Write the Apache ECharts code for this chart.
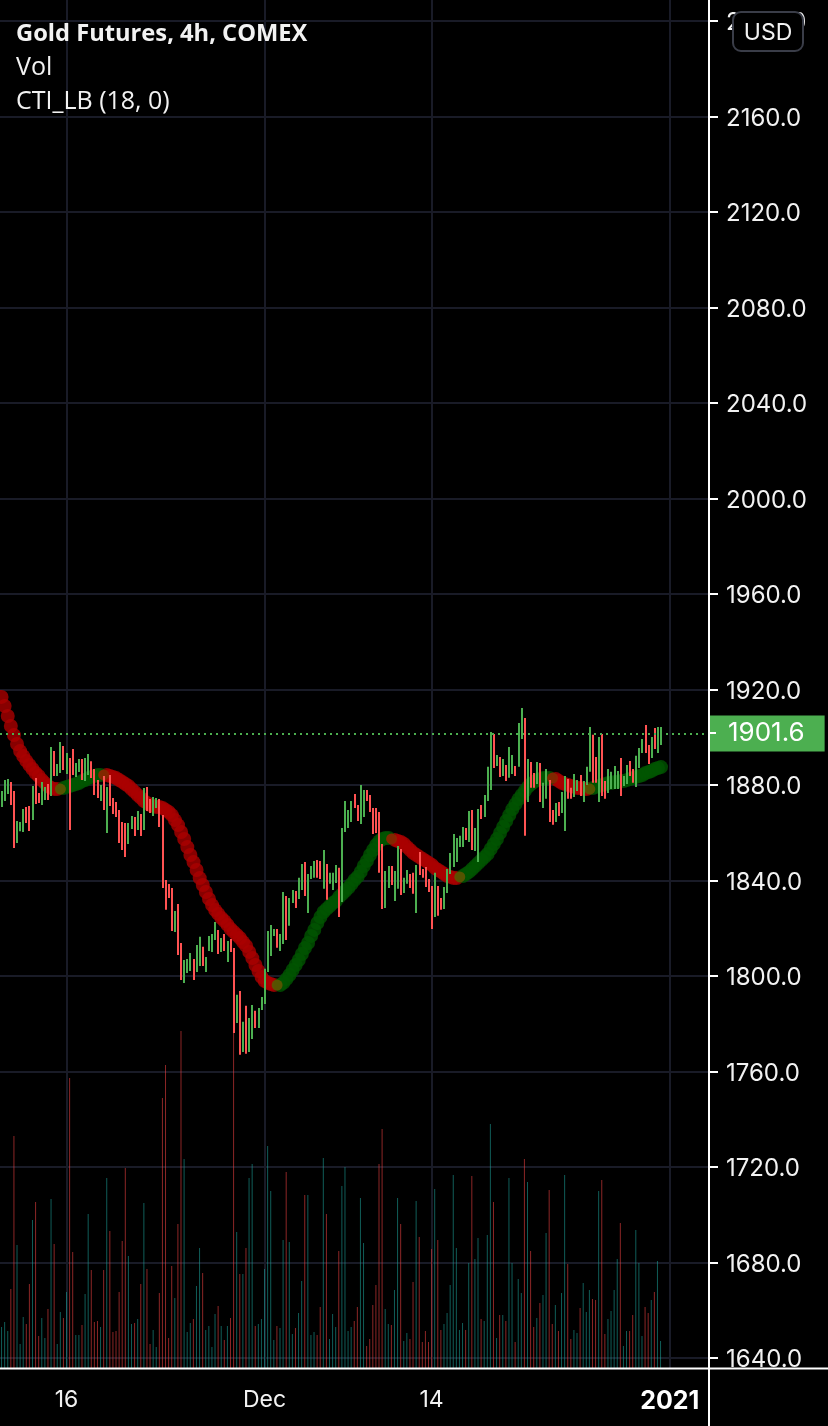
<!DOCTYPE html>
<html style="height: 100%">
<head>
<meta charset="utf-8">
<script src="https://cdn.jsdelivr.net/npm/echarts@6/dist/echarts.min.js"></script>
</head>
<body style="height: 100%; margin: 0; background: #000">
<div id="container" style="width: 828px; height: 1426px"></div>
<script type="text/javascript">
var priceTicks = [1640, 2200];
var lastPrice = 1901.6;
var tickIndex = [21, 85, 139, 216];
var tickLabel = ['16', 'Dec', '14', '2021'];
var barCount = 229;

var barHigh = [
1877.5,1882.1,1882.5,1881.3,1877.5,1864.9,1864.5,1870.0,1870.8,1871.2,
1879.6,1882.9,1876.6,1881.3,1879.2,1880.4,1895.9,1894.2,1888.8,1898.0,
1896.3,1893.4,1891.3,1895.1,1889.2,1890.9,1890.9,1891.3,1893.0,1890.0,
1886.7,1882.1,1880.0,1883.8,1879.2,1884.2,1874.6,1872.9,1869.5,1864.5,
1864.1,1864.1,1867.0,1866.6,1869.1,1867.9,1878.7,1879.2,1874.1,1875.0,
1874.6,1874.1,1867.4,1840.2,1838.5,1836.9,1827.2,1830.2,1813.8,1806.7,
1807.1,1809.6,1807.1,1813.0,1816.4,1812.2,1808.0,1816.8,1817.6,1822.6,
1819.3,1815.9,1817.6,1814.7,1815.5,1811.7,1792.1,1793.7,1780.8,1787.5,
1782.4,1787.9,1785.4,1786.6,1791.2,1803.0,1818.9,1821.4,1819.7,1819.7,
1817.6,1835.2,1833.5,1832.7,1836.0,1835.6,1841.1,1846.9,1847.8,1842.7,
1846.1,1848.2,1848.6,1848.2,1852.8,1846.9,1843.2,1843.2,1846.5,1845.3,
1862.0,1873.3,1869.5,1873.3,1876.2,1871.6,1880.0,1877.9,1877.9,1875.8,
1870.4,1870.4,1868.7,1855.3,1844.0,1846.1,1846.1,1844.0,1854.5,1853.2,
1841.1,1844.4,1842.7,1843.2,1846.5,1851.9,1844.8,1845.7,1840.6,1837.7,
1843.2,1837.7,1832.7,1837.3,1844.8,1851.5,1859.5,1857.8,1858.7,1862.4,
1862.0,1869.1,1869.5,1862.0,1870.0,1871.6,1875.8,1887.6,1902.2,1901.4,
1892.6,1891.7,1890.9,1888.4,1895.9,1892.6,1888.0,1906.0,1912.3,1908.1,
1890.9,1889.6,1885.0,1889.6,1889.2,1880.9,1886.7,1882.1,1869.5,1872.5,
1872.9,1877.1,1883.8,1882.5,1878.8,1884.6,1882.1,1884.2,1881.7,1887.6,
1904.3,1901.0,1891.7,1900.1,1901.4,1881.7,1886.7,1885.5,1888.0,1885.9,
1891.3,1883.8,1888.4,1890.1,1886.7,1892.2,1895.5,1899.3,1905.1,1896.8,
1900.1,1903.9,1904.3,1904.3
];
var barLow = [
1870.8,1873.3,1876.2,1871.6,1853.6,1855.7,1860.6,1860.3,1864.1,1860.7,
1865.3,1872.0,1872.5,1871.6,1873.7,1873.7,1875.4,1883.8,1883.8,1885.0,
1886.3,1884.6,1861.1,1884.2,1883.4,1885.4,1882.1,1881.7,1884.2,1882.9,
1875.8,1874.6,1873.3,1869.5,1859.9,1871.2,1867.9,1866.6,1855.7,1852.8,
1849.8,1855.3,1861.6,1858.6,1861.1,1858.6,1861.1,1869.1,1868.3,1867.0,
1870.4,1862.4,1836.9,1827.7,1832.7,1818.9,1818.4,1808.8,1798.3,1797.1,
1801.3,1802.1,1798.3,1801.7,1804.2,1804.2,1801.7,1810.5,1810.1,1815.1,
1809.2,1810.1,1810.5,1805.9,1810.1,1776.1,1780.3,1767.0,1768.2,1767.4,
1768.2,1773.6,1778.2,1778.2,1785.8,1788.3,1801.7,1808.4,1816.8,1811.8,
1810.5,1813.4,1815.1,1821.0,1830.6,1828.5,1832.3,1836.0,1833.5,1826.4,
1840.6,1841.1,1841.1,1840.6,1836.5,1831.9,1838.6,1836.0,1839.0,1824.7,
1831.0,1860.3,1862.0,1864.5,1870.4,1864.9,1863.7,1866.6,1873.3,1868.7,
1859.5,1859.9,1843.2,1828.1,1828.5,1836.9,1838.1,1831.4,1836.5,1833.9,
1834.8,1838.6,1836.9,1834.4,1826.4,1842.3,1841.1,1837.3,1835.2,1819.7,
1824.7,1825.2,1827.7,1828.1,1834.8,1842.7,1845.7,1847.8,1854.0,1854.0,
1857.0,1856.1,1852.8,1852.4,1847.8,1865.8,1866.6,1873.3,1877.9,1887.1,
1888.0,1883.4,1883.8,1881.7,1883.0,1884.6,1883.8,1887.6,1899.3,1858.7,
1872.9,1878.8,1878.8,1880.4,1872.9,1870.4,1874.2,1864.5,1863.3,1864.5,
1867.0,1868.3,1860.7,1874.2,1874.2,1875.0,1877.5,1875.4,1872.9,1880.0,
1885.5,1880.9,1880.9,1872.9,1875.4,1874.2,1876.7,1878.3,1878.3,1878.3,
1875.4,1879.6,1880.4,1883.8,1880.9,1879.2,1887.1,1893.4,1893.4,1888.8,
1891.3,1895.1,1893.4,1896.8
];
// 1 = closed up (green bar, teal volume), 0 = closed down
var barUp = [
1,1,1,0,0,1,1,1,0,0, 1,0,0,1,1,0,1,0,1,1,
0,1,0,0,1,1,0,1,1,0, 0,0,1,0,1,0,0,0,0,0,
0,1,1,0,1,0,1,0,0,1, 1,0,0,0,0,0,1,0,0,1,
1,1,0,1,1,0,1,1,1,1, 0,1,0,1,0,0,1,0,1,0,
1,1,0,1,1,1,1,1,1,0, 1,1,0,1,1,0,1,1,0,1,
1,1,0,0,1,0,1,1,1,0, 1,1,1,1,0,0,1,1,0,0,
0,0,0,0,1,1,0,1,1,0, 1,1,0,0,1,0,0,0,0,0,
1,0,0,1,1,1,1,1,1,1, 0,1,0,1,1,0,1,1,1,0,
1,0,1,0,1,1,0,1,1,0, 1,0,0,1,0,1,1,0,0,1,
0,1,1,0,0,1,1,0,1,1, 1,0,0,1,0,0,1,1,1,1,
0,1,1,0,0,1,1,1,0,0, 1,0,1,1
];
var volume = [
41,46,37,79,232,123,24,51,44,84, 148,166,32,50,30,59,169,124,24,56,
50,76,290,116,33,33,43,74,154,98, 46,47,41,98,190,137,36,37,76,127,
200,112,44,45,49,84,165,99,24,38, 21,75,270,303,30,102,70,144,337,209,
36,45,49,82,120,95,38,42,21,54, 62,42,28,42,50,343,136,94,94,120,
190,204,42,44,49,99,222,177,28,42, 40,128,196,126,34,40,55,87,173,173,
33,36,33,61,210,154,29,54,41,117, 182,201,37,41,47,61,170,125,22,29,
63,83,204,239,59,44,43,78,170,144, 27,35,29,86,167,131,26,37,26,119,
179,128,38,44,55,83,193,120,38,45, 38,105,192,109,130,49,47,133,244,166,
30,53,53,47,190,105,26,89,75,209, 186,117,41,50,65,73,135,178,44,63,
37,75,193,104,29,38,35,60,85,56, 78,69,68,177,188,34,49,57,78,109,
145,22,37,37,53,138,105,32,61,55, 68,76,107,27
];
var cti = [
1916.9,1913.1,1908.9,1904.7,1900.9,1897.2,1894.2,1892.1,1890.1,1888.4,
1886.7,1885.0,1883.8,1882.1,1880.8,1879.6,1878.7,1878.3,1878.3,1878.3,
1878.7,1879.2,1879.6,1880.0,1880.4,1880.8,1881.7,1882.1,1882.9,1883.4,
1883.8,1884.2,1884.2,1884.2,1884.2,1883.8,1883.4,1882.9,1882.1,1881.3,
1880.4,1879.6,1878.3,1877.1,1875.8,1874.6,1873.3,1872.5,1871.6,1871.2,
1870.8,1870.8,1870.4,1869.5,1868.7,1867.4,1865.3,1863.2,1860.3,1857.4,
1854.0,1850.7,1847.7,1844.4,1841.0,1838.1,1835.2,1832.3,1829.7,1827.6,
1826.0,1824.3,1823.0,1821.4,1819.7,1818.4,1817.2,1815.9,1814.2,1812.6,
1810.1,1807.5,1804.6,1802.1,1799.6,1797.9,1797.1,1796.6,1796.2,1796.2,
1796.2,1797.1,1798.7,1800.4,1802.5,1804.6,1806.7,1809.2,1811.7,1813.8,
1816.8,1819.3,1822.2,1824.7,1826.8,1828.1,1829.3,1830.6,1831.4,1833.1,
1834.3,1835.6,1836.9,1838.5,1840.2,1841.5,1843.6,1846.1,1848.2,1850.7,
1852.8,1854.9,1856.5,1857.4,1857.8,1857.8,1857.4,1857.0,1856.5,1856.1,
1855.3,1854.0,1852.8,1851.5,1850.7,1849.8,1849.0,1848.2,1847.3,1846.5,
1845.2,1844.4,1843.6,1842.7,1841.9,1841.5,1841.0,1841.0,1841.5,1841.9,
1842.7,1843.6,1844.8,1846.1,1847.3,1848.6,1849.8,1851.1,1853.2,1855.3,
1857.4,1859.9,1862.4,1864.9,1867.4,1869.9,1872.0,1874.1,1875.8,1877.5,
1879.2,1880.4,1881.3,1882.1,1882.5,1882.9,1882.9,1882.9,1882.9,1882.5,
1881.7,1880.8,1880.4,1880.0,1879.6,1879.2,1878.7,1878.7,1878.3,1878.3,
1878.3,1878.7,1879.2,1879.6,1880.0,1880.4,1880.8,1880.8,1881.3,1881.3,
1881.7,1881.7,1882.1,1882.5,1882.9,1883.4,1883.8,1884.2,1885.0,1885.4,
1885.9,1886.7,1887.1,1887.5
];
// bars where the CTI line flips colour, starts red
var ctiTurns = [19, 33, 89, 126, 148, 178, 190];

var upColor = '#4CAF50';
var downColor = '#FF5252';
var gridColor = '#191B27';
var axisColor = '#FFFFFF';
var textColor = '#F2F2F2';
var labelFont = 'Inter';
var legendFont = '"Open Sans"';

var categories = [];
for (var i = 0; i < barCount; i++) {
    var t = tickIndex.indexOf(i);
    categories.push(t >= 0 ? tickLabel[t] : '');
}

// [bar, low, high, up]
var ohlcBars = barHigh.map(function (h, i) {
    return [i, barLow[i], h, barUp[i]];
});
var volumeBars = volume.map(function (v, i) {
    return { value: v, itemStyle: { color: barUp[i] ? 'rgba(30,170,160,0.55)' : 'rgba(255,70,70,0.55)' } };
});

var ctiRed = [], ctiGreen = [], ctiFlip = [];
cti.forEach(function (v, i) {
    var turn = ctiTurns.indexOf(i);
    if (turn >= 0) {
        // red into green shows olive, green into red stays orange
        ctiFlip.push({ value: [i, v], itemStyle: { color: turn % 2 === 0 ? '#5E5400' : '#8E2400' } });
        return;
    }
    var seg = 0;
    ctiTurns.forEach(function (b) { if (i > b) seg++; });
    (seg % 2 === 0 ? ctiRed : ctiGreen).push([i, v]);
});

function hasTick(index) {
    return tickIndex.indexOf(index) >= 0;
}

// 2px crisp stick, the bars are too close together to show open and close
function renderBar(params, api) {
    var top = api.coord([api.value(0), api.value(2)]);
    var bottom = api.coord([api.value(0), api.value(1)]);
    return {
        type: 'rect',
        shape: { x: Math.round(top[0] - 1), y: top[1], width: 2, height: bottom[1] - top[1] },
        style: { fill: api.value(3) ? upColor : downColor }
    };
}

var dom = document.getElementById('container');
var myChart = echarts.init(dom);

var option = {
    animation: false,
    backgroundColor: '#000',
    title: [
        { text: 'Gold Futures, 4h, COMEX', left: 16, top: 22, padding: 0, textStyle: { color: textColor, fontFamily: legendFont, fontWeight: 700, fontSize: 23.7 } },
        { text: 'Vol', left: 16, top: 55, padding: 0, textStyle: { color: textColor, fontFamily: legendFont, fontWeight: 400, fontSize: 25 } },
        { text: 'CTI_LB (18, 0)', left: 16, top: 89, padding: 0, textStyle: { color: textColor, fontFamily: legendFont, fontWeight: 400, fontSize: 25 } }
    ],
    grid: [
        { left: -1, width: 710, top: 21, height: 1337 },
        { left: -1.5, width: 710, top: 0, height: 1368 },
        // only carries the price labels, they sit 2px below their ticks
        { left: -1, width: 710, top: 23, height: 1337 }
    ],
    xAxis: [
        { type: 'category', gridIndex: 0, data: categories, show: false },
        {
            type: 'category', gridIndex: 1, data: categories,
            axisLine: { show: false },
            axisTick: { alignWithLabel: true, interval: hasTick, length: 7, lineStyle: { color: axisColor, width: 2 } },
            splitLine: { show: true, alignWithLabel: true, interval: hasTick, lineStyle: { color: gridColor, width: 2 } },
            axisLabel: {
                interval: hasTick, margin: 21, color: textColor, fontFamily: labelFont, fontSize: 23,
                formatter: function (v) { return v === '2021' ? '{y|2021}' : v; },
                rich: { y: { color: '#fff', fontFamily: labelFont, fontSize: 25, fontWeight: 700 } }
            }
        },
        { type: 'category', gridIndex: 2, data: categories, show: false }
    ],
    yAxis: [
        {
            type: 'value', gridIndex: 0, position: 'right', min: priceTicks[0], max: priceTicks[1], interval: 40,
            axisLine: { show: false },
            axisTick: { show: true, length: 9, lineStyle: { color: axisColor, width: 2 } },
            splitLine: { lineStyle: { color: gridColor, width: 2 } },
            axisLabel: { show: false }
        },
        { type: 'value', gridIndex: 1, min: 0, max: 1368, show: false },
        {
            type: 'value', gridIndex: 2, position: 'right', min: priceTicks[0], max: priceTicks[1], interval: 40,
            axisLine: { show: false }, axisTick: { show: false }, splitLine: { show: false },
            axisLabel: {
                margin: 17, color: textColor, fontFamily: labelFont, fontSize: 24,
                formatter: function (v) { return v.toFixed(1); }
            }
        }
    ],
    series: [
        {
            name: 'Vol', type: 'bar', xAxisIndex: 1, yAxisIndex: 1, barWidth: 1, z: 1,
            data: volumeBars
        },
        {
            name: 'CTI falling', type: 'scatter', xAxisIndex: 0, yAxisIndex: 0, z: 2,
            symbolSize: 14, itemStyle: { color: '#AA0000', opacity: 0.8 }, data: ctiRed
        },
        {
            name: 'CTI rising', type: 'scatter', xAxisIndex: 0, yAxisIndex: 0, z: 2,
            symbolSize: 14, itemStyle: { color: '#005500', opacity: 0.8 }, data: ctiGreen,
            markLine: {
                silent: true, symbol: 'none', animation: false,
                lineStyle: { color: upColor, type: [2, 4], width: 2 },
                label: {
                    position: 'end', distance: -1, formatter: lastPrice.toFixed(1), color: '#fff',
                    fontFamily: labelFont, fontSize: 26, lineHeight: 26, backgroundColor: upColor,
                    padding: [5, 20, 5, 20]
                },
                data: [{ yAxis: lastPrice }]
            }
        },
        {
            name: 'CTI flip', type: 'scatter', xAxisIndex: 0, yAxisIndex: 0, z: 2,
            symbolSize: 11, itemStyle: { opacity: 0.9 }, data: ctiFlip
        },
        {
            name: 'Gold', type: 'custom', xAxisIndex: 0, yAxisIndex: 0, z: 3,
            renderItem: renderBar,
            encode: { x: 0, y: [1, 2] },
            data: ohlcBars
        }
    ],
    graphic: [
        { type: 'line', z: 20, shape: { x1: 709, y1: 0, x2: 709, y2: 1426 }, style: { stroke: axisColor, lineWidth: 2 } },
        { type: 'line', z: 20, shape: { x1: 0, y1: 1368.5, x2: 828, y2: 1368.5 }, style: { stroke: axisColor, lineWidth: 2 } },
        { type: 'line', z: 21, shape: { x1: 709, y1: 733, x2: 716, y2: 733 }, style: { stroke: axisColor, lineWidth: 2 } },
        { type: 'rect', z: 30, shape: { x: 733, y: 12, width: 70, height: 39, r: 8 }, style: { fill: '#000', stroke: '#3A3D48', lineWidth: 2 } },
        { type: 'text', z: 31, x: 768, y: 33, style: { text: 'USD', fill: textColor, font: '23px Inter', align: 'center', verticalAlign: 'middle' } }
    ]
};
myChart.setOption(option);
</script>
</body>
</html>
